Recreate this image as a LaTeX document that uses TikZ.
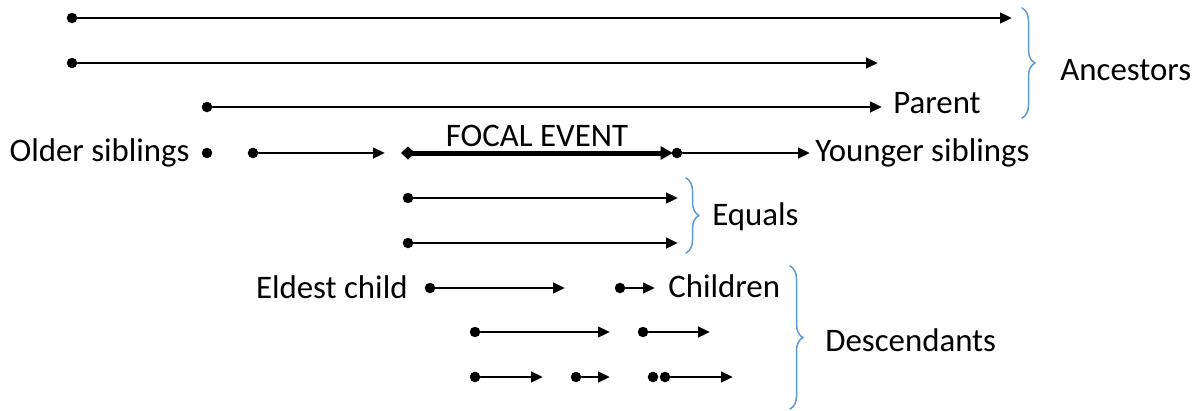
\documentclass[tikz,border=0pt]{standalone}
\usepackage{fontspec}
\setmainfont{Carlito}
\usepackage{xcolor}
\usetikzlibrary{arrows.meta,decorations.pathreplacing}
\definecolor{bracebl}{HTML}{5B9BD5}
\tikzset{
  every picture/.style={line join=round, line cap=round},
  dot/.style={circle, fill, inner sep=0pt, minimum size=0.21cm},
  evt/.style={line width=0.055cm, -{Triangle[length=0.24cm,width=0.21cm]}},
  focal/.style={line width=0.1cm, {Diamond[length=0.28cm,width=0.26cm]}-{Triangle[length=0.25cm,width=0.26cm]}},
  brc/.style={draw=bracebl, line width=0.03cm, decorate, decoration={brace, amplitude=0.26cm}},
  lbl/.style={font=\fontsize{18.7}{22}\selectfont, inner sep=0pt},
}

\begin{document}
\begin{tikzpicture}[x=0.02cm,y=-0.02cm]
\useasboundingbox (0,0) rectangle (1201,410);
% ancestors
\node[dot](anc1) at (72,18){};  \coordinate(anc1e) at (1012,18);
\node[dot](anc2) at (72,63){};  \coordinate(anc2e) at (878,63);
\node[dot](par) at (207,107){}; \coordinate(pare) at (882,107);
\draw[evt](anc1)--(anc1e);
\draw[evt](anc2)--(anc2e);
\draw[evt](par)--(pare);
\node[lbl,anchor=west](parlbl) at (893,103){Parent};
% siblings and focal event
\node[dot](old1) at (207,153){};
\node[dot](old2) at (253,153){}; \coordinate(old2e) at (385,153);
\coordinate(fs) at (401,153); \coordinate(fe) at (673,153);
\node[dot](yng) at (677,153){}; \coordinate(ynge) at (810,153);
\draw[evt](old2)--(old2e);
\draw[focal](fs)--(fe);
\draw[evt](yng)--(ynge);
\node[lbl,anchor=east](oldlbl) at (190,153){Older siblings};
\node[lbl](foclbl) at (537,136){FOCAL EVENT};
\node[lbl,anchor=west](ynglbl) at (815,153){Younger siblings};
% equals
\node[dot](eq1) at (408,198){}; \coordinate(eq1e) at (678,198);
\node[dot](eq2) at (408,243){}; \coordinate(eq2e) at (678,243);
\draw[evt](eq1)--(eq1e);
\draw[evt](eq2)--(eq2e);
\node[lbl,anchor=west](eqlbl) at (712,217){Equals};
% descendants
\node[dot](ch1) at (430,288){}; \coordinate(ch1e) at (565,288);
\node[dot](ch2) at (620,288){}; \coordinate(ch2e) at (655,288);
\node[dot](gc1) at (475,332){}; \coordinate(gc1e) at (610,332);
\node[dot](gc2) at (643,332){}; \coordinate(gc2e) at (710,332);
\node[dot](gg1) at (475,377){}; \coordinate(gg1e) at (543,377);
\node[dot](gg2) at (576,377){}; \coordinate(gg2e) at (610,377);
\node[dot](gg3) at (653,377){};
\node[dot](gg4) at (665,377){}; \coordinate(gg4e) at (733,377);
\draw[evt](ch1)--(ch1e);
\draw[evt](ch2)--(ch2e);
\draw[evt](gc1)--(gc1e);
\draw[evt](gc2)--(gc2e);
\draw[evt](gg1)--(gg1e);
\draw[evt](gg2)--(gg2e);
\draw[evt](gg4)--(gg4e);
\node[lbl,anchor=east](eldlbl) at (408,287){Eldest child};
\node[lbl,anchor=west](chlbl) at (668,286){Children};
% braces
\coordinate(ancbt) at (1022,8);  \coordinate(ancbb) at (1022,118);
\coordinate(eqbt) at (686,178);  \coordinate(eqbb) at (686,253);
\coordinate(desbt) at (790,266); \coordinate(desbb) at (790,409);
\draw[brc](ancbt)--(ancbb);
\draw[brc](eqbt)--(eqbb);
\draw[brc](desbt)--(desbb);
\node[lbl,anchor=west](anclbl) at (1060,70){Ancestors};
\node[lbl,anchor=west](deslbl) at (825,340){Descendants};
\end{tikzpicture}
\end{document}
